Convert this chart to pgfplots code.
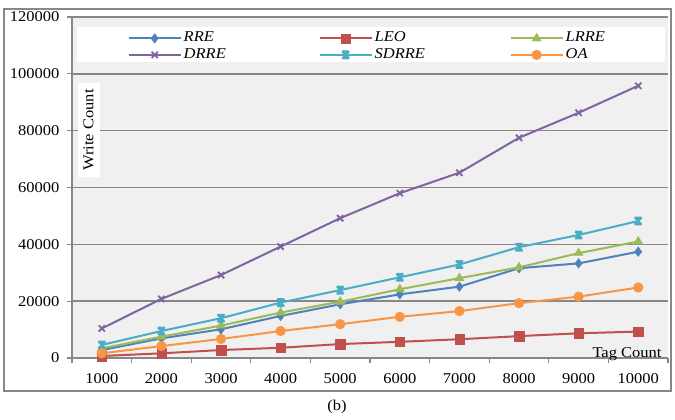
\documentclass[border=0pt]{standalone}
\usepackage{fontspec}
\setmainfont{Liberation Serif}[FakeStretch=1.1]
\usepackage{pgfplots}
\pgfplotsset{compat=1.18}
\definecolor{cRRE}{HTML}{4F81BD}
\definecolor{cLEO}{HTML}{C0504D}
\definecolor{cLRRE}{HTML}{9BBB59}
\definecolor{cDRRE}{HTML}{8064A2}
\definecolor{cSDRRE}{HTML}{4BACC6}
\definecolor{cOA}{HTML}{F79646}
\definecolor{gridc}{HTML}{878787}
\definecolor{bgc}{HTML}{F0F0F0}
\newcommand\fs{\fontsize{15bp}{16.5bp}\selectfont}
\pgfdeclareplotmark{xstar}{%
  \pgfpathmoveto{\pgfqpoint{-0.8\pgfplotmarksize}{-0.8\pgfplotmarksize}}%
  \pgfpathlineto{\pgfqpoint{0.8\pgfplotmarksize}{0.8\pgfplotmarksize}}%
  \pgfpathmoveto{\pgfqpoint{-0.8\pgfplotmarksize}{0.8\pgfplotmarksize}}%
  \pgfpathlineto{\pgfqpoint{0.8\pgfplotmarksize}{-0.8\pgfplotmarksize}}%
  \pgfpathmoveto{\pgfqpoint{0pt}{-\pgfplotmarksize}}%
  \pgfpathlineto{\pgfqpoint{0pt}{\pgfplotmarksize}}%
  \pgfpathmoveto{\pgfqpoint{-0.8\pgfplotmarksize}{0.8\pgfplotmarksize}}%
  \pgfpathlineto{\pgfqpoint{0.8\pgfplotmarksize}{0.8\pgfplotmarksize}}%
  \pgfpathmoveto{\pgfqpoint{-0.8\pgfplotmarksize}{-0.8\pgfplotmarksize}}%
  \pgfpathlineto{\pgfqpoint{0.8\pgfplotmarksize}{-0.8\pgfplotmarksize}}%
  \pgfusepathqstroke}
\begin{document}
\begin{tikzpicture}[x=1bp,y=1bp,font=\fs]
\useasboundingbox (0,0) rectangle (675,419);
\draw[gridc, line width=1.2bp] (4,28) rectangle (671,410);
\begin{axis}[
  at={(72bp,61bp)}, anchor=south west, scale only axis,
  width=596bp, height=341bp,
  xmin=0.5, xmax=10.5, ymin=0, ymax=120000,
  axis x line*=bottom, axis y line*=left,
  axis line style={gridc, line width=1.5bp},
  axis background/.style={fill=bgc},
  ytick={0,20000,...,120000},
  scaled y ticks=false,
  yticklabel style={/pgf/number format/fixed, /pgf/number format/precision=0,
    /pgf/number format/1000 sep={}, /pgf/number format/assume math mode=true, xshift=-4bp},
  ymajorgrids, grid style={gridc, line width=1.5bp},
  tick align=outside, major tick length=5bp,
  tick style={gridc, line width=1.2bp},
  tick label style={font=\fs, black},
  xtick={0.5,1.5,...,10.5}, xticklabels={},
  extra x ticks={1,2,...,10},
  extra x tick labels={1000,2000,3000,4000,5000,6000,7000,8000,9000,10000},
  extra x tick style={major tick length=0pt, xticklabel style={yshift=-11.5bp}},
  legend columns=3,
  legend cell align=left,
  legend style={at={(0.0931,0.962)}, anchor=north west, draw=none, fill=none,
    inner sep=0pt, font=\itshape\fs, column sep=0pt, row sep=0bp,
    nodes={text width=133bp, inner ysep=1.5bp, text height=10bp, text depth=3.5bp, align=left}},
  legend image code/.code={\draw[mark repeat=2,mark phase=2,#1] plot coordinates {(0bp,0bp) (26bp,0bp) (52bp,0bp)};},
]
\fill[white] (axis cs:0.584,104220) rectangle (axis cs:10.45,116550);
\addplot[color=cRRE, line width=2bp, mark=diamond*, mark size=4.8bp, mark options={line width=0.4bp}]
  coordinates {(1,2800) (2,6900) (3,10100) (4,14800) (5,18900) (6,22400) (7,25100) (8,31600) (9,33300) (10,37400)};
\addlegendentry{RRE}
\addplot[color=cLEO, line width=2bp, mark=square*, mark size=4.7bp, mark options={line width=0.4bp}]
  coordinates {(1,700) (2,1650) (3,2800) (4,3600) (5,4900) (6,5700) (7,6600) (8,7700) (9,8700) (10,9300)};
\addlegendentry{LEO}
\addplot[color=cLRRE, line width=2bp, mark=triangle*, mark size=5.2bp, mark options={line width=0.4bp}]
  coordinates {(1,3400) (2,7500) (3,11400) (4,16000) (5,19800) (6,24200) (7,28100) (8,31900) (9,36900) (10,41000)};
\addlegendentry{LRRE}
\addplot[color=cDRRE, line width=2bp, mark=x, mark size=4.4bp, mark options={line width=1.8bp}]
  coordinates {(1,10400) (2,20800) (3,29200) (4,39200) (5,49200) (6,58000) (7,65200) (8,77500) (9,86300) (10,95800)};
\addlegendentry{DRRE}
\addplot[color=cSDRRE, line width=2bp, mark=xstar, mark size=4.4bp, mark options={line width=1.8bp}]
  coordinates {(1,4600) (2,9500) (3,14000) (4,19500) (5,23900) (6,28400) (7,32900) (8,39000) (9,43300) (10,48200)};
\addlegendentry{SDRRE}
\addplot[color=cOA, line width=2bp, mark=*, mark size=4.9bp, mark options={line width=0.4bp}]
  coordinates {(1,1650) (2,4200) (3,6700) (4,9500) (5,11900) (6,14500) (7,16500) (8,19300) (9,21600) (10,24800)};
\addlegendentry{OA}
\end{axis}
\node[fill=white, rotate=90, inner sep=0pt, minimum width=94bp, minimum height=22bp] at (88.5,289) {Write Count};
\node[anchor=base, inner sep=0pt] at (627,61.5) {Tag Count};
\node at (337,12) {(b)};
\end{tikzpicture}
\end{document}
